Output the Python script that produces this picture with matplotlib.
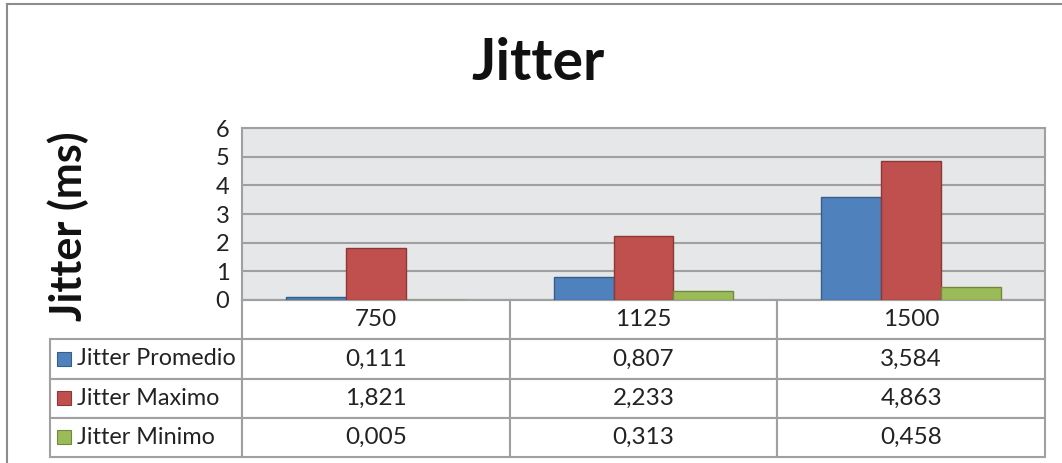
#!/usr/bin/env python3
"""Jitter chart: clustered bars with an Excel-style data table underneath."""

import matplotlib
matplotlib.use("Agg")
import matplotlib.pyplot as plt
from matplotlib.patches import Rectangle
from matplotlib.lines import Line2D
import numpy as np

plt.rcParams["font.family"] = ["Lato", "DejaVu Sans"]

# ---- data ------------------------------------------------------------
categories = ["750", "1125", "1500"]
series_names = ["Jitter Promedio", "Jitter Maximo", "Jitter Minimo"]
promedio = [0.111, 0.807, 3.584]
maximo = [1.821, 2.233, 4.863]
minimo = [0.005, 0.313, 0.458]
series_values = [promedio, maximo, minimo]
y_ticks = [0, 1, 2, 3, 4, 5, 6]

colors = ["#4f81bd", "#c0504d", "#9bbb59"]
edges = ["#385d8a", "#8c3836", "#71893f"]
grid_col = "#a0a0a0"

W, H = 1062, 463
fig = plt.figure(figsize=(W / 100, H / 100), dpi=100)

# plot area in pixels (left, top, right, bottom)
pl, pt, pr, pb = 242, 128, 1045, 300
ax = fig.add_axes([pl / W, 1 - pb / H, (pr - pl) / W, (pb - pt) / H])
ax.set_facecolor("#e6e7e8")

x = np.arange(len(categories))
bw = 0.224
for i, (vals, c, e) in enumerate(zip(series_values, colors, edges)):
    ax.bar(x + (i - 1) * bw, vals, bw, color=c, edgecolor=e, linewidth=1.0, zorder=3)

ax.set_xlim(-0.5, len(categories) - 0.5)
ax.set_ylim(0, 6)
ax.set_yticks(y_ticks)
ax.set_yticklabels([str(t) for t in y_ticks], fontsize=17, color="#222222")
ax.tick_params(axis="y", length=0, pad=9)
ax.set_xticks([])
ax.yaxis.grid(True, color=grid_col, linewidth=1.5, zorder=0)
for s in ["left", "top", "right", "bottom"]:
    ax.spines[s].set_color(grid_col)
    ax.spines[s].set_linewidth(1.5)

# ---- data table ------------------------------------------------------
cell_text = [[""] + [f"{v:.3f}".replace(".", ",") for v in vals] for vals in series_values]
col_labels = [""] + categories
tl, tb = 50, 457
col_w = [pl - tl] + [(pr - pl) / 3] * 3
tab = ax.table(cellText=cell_text, colLabels=col_labels, colWidths=col_w,
               cellLoc="center",
               bbox=[(tl - pl) / (pr - pl), -(tb - pb) / (pb - pt),
                     (pr - tl) / (pr - pl), (tb - pb) / (pb - pt)])
tab.auto_set_font_size(False)
for (r, c), cell in tab.get_celld().items():
    cell.set_edgecolor(grid_col)
    cell.set_linewidth(1.5)
    cell.get_text().set_fontsize(17.5)
    cell.get_text().set_color("#222222")
    if r == 0 and c == 0:
        cell.visible_edges = ""

# legend keys + series names in the first column
row_h = (tb - pb) / 4
for i, name in enumerate(series_names):
    yc = pb + row_h * (i + 1.5)
    ax.add_patch(Rectangle(((57 - pl) / (pr - pl), (pb - yc - 7) / (pb - pt)),
                           14 / (pr - pl), 14 / (pb - pt),
                           facecolor=colors[i], edgecolor=edges[i], linewidth=0.8,
                           transform=ax.transAxes, clip_on=False, zorder=5))
    ax.text((77 - pl) / (pr - pl), (pb - yc) / (pb - pt), name, fontsize=16.8,
            color="#222222", ha="left", va="center", transform=ax.transAxes)

# ---- titles ------------------------------------------------------------
fig.text(538 / W, 1 - 64 / H, "Jitter", fontsize=41, fontweight="bold",
         ha="center", va="center", color="#111111")
fig.text(68 / W, 1 - 226 / H, "Jitter (ms)", fontsize=31, fontweight="bold",
         rotation=90, ha="center", va="center", color="#111111")

# chart area border (image is cropped on the right and bottom)
fig.add_artist(Line2D([7 / W, 7 / W], [0, 1 - 4 / H], color="#8c8c8c", linewidth=1.5))
fig.add_artist(Line2D([7 / W, 1], [1 - 4 / H, 1 - 4 / H], color="#8c8c8c", linewidth=1.5))

fig.savefig("out.png", dpi=100)
